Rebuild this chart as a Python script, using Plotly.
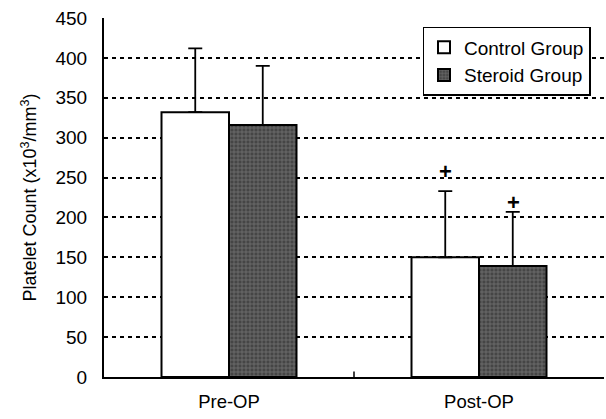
import plotly.graph_objects as go

categories = ["Pre-OP", "Post-OP"]
control_mean = [332, 150]
control_err = [80, 83]
steroid_mean = [316, 139]
steroid_err = [74, 68]
plus_y = [None, 257]
plus_y_steroid = [None, 219]

font = "Liberation Sans, Arial, sans-serif"

fig = go.Figure()
fig.add_trace(go.Bar(
    name="Control Group", x=categories, y=control_mean,
    marker=dict(color="white", line=dict(color="black", width=2)),
    error_y=dict(type="data", array=control_err, arrayminus=[0, 0], symmetric=False,
                 color="black", thickness=1.8, width=7),
))
fig.add_trace(go.Bar(
    name="Steroid Group", x=categories, y=steroid_mean,
    marker=dict(color="#454545", line=dict(color="black", width=2),
                pattern=dict(shape="+", fgcolor="#a0a0a0", bgcolor="#454545", size=4, solidity=0.35)),
    error_y=dict(type="data", array=steroid_err, arrayminus=[0, 0], symmetric=False,
                 color="black", thickness=1.8, width=7),
))

for cat, y, shift in [(categories[1], plus_y[1], -34), (categories[1], plus_y_steroid[1], 34)]:
    fig.add_annotation(x=cat, y=y, text="<b>+</b>", showarrow=False, xshift=shift,
                       font=dict(family=font, size=22, color="black"), yanchor="middle")

fig.update_layout(
    width=606, height=419,
    margin=dict(l=104, r=2, t=18, b=42),
    paper_bgcolor="white", plot_bgcolor="white",
    barmode="group", bargap=0.46, bargroupgap=0,
    font=dict(family=font, size=19, color="black"),
    legend=dict(x=0.637, y=0.975, xanchor="left", yanchor="top",
                bgcolor="white", bordercolor="black", borderwidth=1.5,
                font=dict(size=19), itemsizing="constant", tracegroupgap=0),
    showlegend=True,
)
fig.update_xaxes(type="category", tickmode="array", tickvals=categories, ticktext=categories,
                 showline=True, linecolor="black", linewidth=2, ticks="",
                 showgrid=False, range=[-0.5, 1.5], tickfont=dict(size=18.5),
                 ticklabelstandoff=7)
fig.update_yaxes(range=[0, 450], dtick=50, showline=True, linecolor="black", linewidth=2,
                 ticks="", showgrid=True, gridcolor="black", gridwidth=1.5, griddash="4px,4px",
                 zeroline=False, tickfont=dict(size=19), ticklabelstandoff=11,
                 title=dict(text="Platelet Count (x10<sup>3</sup>/mm<sup>3</sup>)", font=dict(size=18), standoff=14))

fig.add_shape(type="line", xref="x", yref="paper", x0=0.5, x1=0.5, y0=0, y1=0.015,
              line=dict(color="black", width=1.5))

fig.write_html("out.html")
